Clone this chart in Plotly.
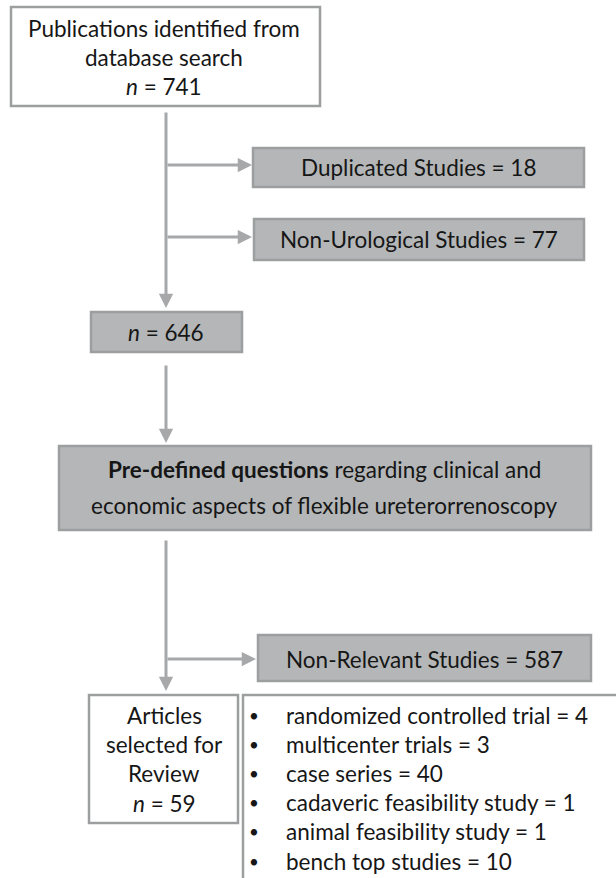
import plotly.graph_objects as go

# ---- data ----
identified_n = 741
excluded_labels = ["Duplicated Studies", "Non-Urological Studies", "Non-Relevant Studies"]
excluded_counts = [18, 77, 587]
screened_n = 646
selected_n = 59
design_labels = ["randomized controlled trial", "multicenter trials", "case series",
                 "cadaveric feasibility study", "animal feasibility study", "bench top studies"]
design_counts = [4, 3, 40, 1, 1, 10]

# ---- style ----
FONT = "Lato"
TXT = "#161616"
FILL = "#b4b6b8"
EDGE = "#9c9ea0"
CONN = "#a6a8aa"
FS = 22.5

W, H = 616, 878
fig = go.Figure()
shapes = []
ann = []


def box(x0, y0, x1, y1, fill):
    shapes.append(dict(type="rect", xref="x", yref="y", x0=x0, y0=y0, x1=x1, y1=y1,
                       line=dict(color=EDGE, width=2.5), fillcolor=fill, layer="below"))


def text(x, y, t, size=FS, align="center", xanchor="center"):
    ann.append(dict(x=x, y=y, xref="x", yref="y", text=t, showarrow=False,
                    font=dict(family=FONT, size=size, color=TXT), align=align,
                    xanchor=xanchor, yanchor="middle"))


def arrow(x0, y0, x1, y1):
    ann.append(dict(x=x1, y=y1, ax=x0, ay=y0, xref="x", yref="y", axref="x", ayref="y",
                    text="", showarrow=True, arrowhead=2, arrowsize=0.95, arrowwidth=3,
                    arrowcolor=CONN, standoff=0))


CX = 166

# Box 1
box(11, 7, 320, 106, "white")
text(164, 28, "Publications identified from")
text(164, 57, "database search")
text(164, 86, f"<i>n</i> = {identified_n}")

# vertical to n=646
arrow(CX, 111, CX, 308)
arrow(CX, 165, 252, 165)
arrow(CX, 237, 252, 237)

box(253, 148, 584, 187, FILL)
text(418, 167, f"{excluded_labels[0]} = {excluded_counts[0]}")
box(254, 219, 584, 260, FILL)
text(419, 239, f"{excluded_labels[1]} = {excluded_counts[1]}")

# n = 646
box(91, 312, 242, 352, FILL)
text(166, 332, f"<i>n</i> = {screened_n}")

arrow(CX, 364, CX, 443)

# Pre-defined questions
box(59, 446, 591, 530, FILL)
text(324, 469, "<b>Pre-defined questions</b> regarding clinical and")
text(324, 505, "economic aspects of flexible ureterorrenoscopy")

arrow(CX, 539, CX, 691)
arrow(CX, 659, 256, 659)

box(258, 635, 591, 681, FILL)
text(424, 659, f"{excluded_labels[2]} = {excluded_counts[2]}")

# Articles selected
box(89, 695, 238, 823, "white")
text(164, 715, "Articles")
text(164, 744, "selected for")
text(164, 773, "Review")
text(164, 803, f"<i>n</i> = {selected_n}")

# List box (extends past page edge)
box(243, 695, 640, 900, "white")
for i, (lab, c) in enumerate(zip(design_labels, design_counts)):
    y = 715 + i * 29.2
    text(254, y, "•", size=17, xanchor="center")
    text(284, y, f"{lab} = {c}", xanchor="left", align="left")

fig.update_layout(
    width=W, height=H, margin=dict(l=0, r=0, t=0, b=0),
    paper_bgcolor="white", plot_bgcolor="white",
    xaxis=dict(range=[0, W], visible=False, fixedrange=True),
    yaxis=dict(range=[H, 0], visible=False, fixedrange=True),
    shapes=shapes, annotations=ann, showlegend=False,
)
fig.write_html("out.html", config={"displayModeBar": False},
               post_script="document.body.style.margin='0';document.body.style.overflow='hidden';")
